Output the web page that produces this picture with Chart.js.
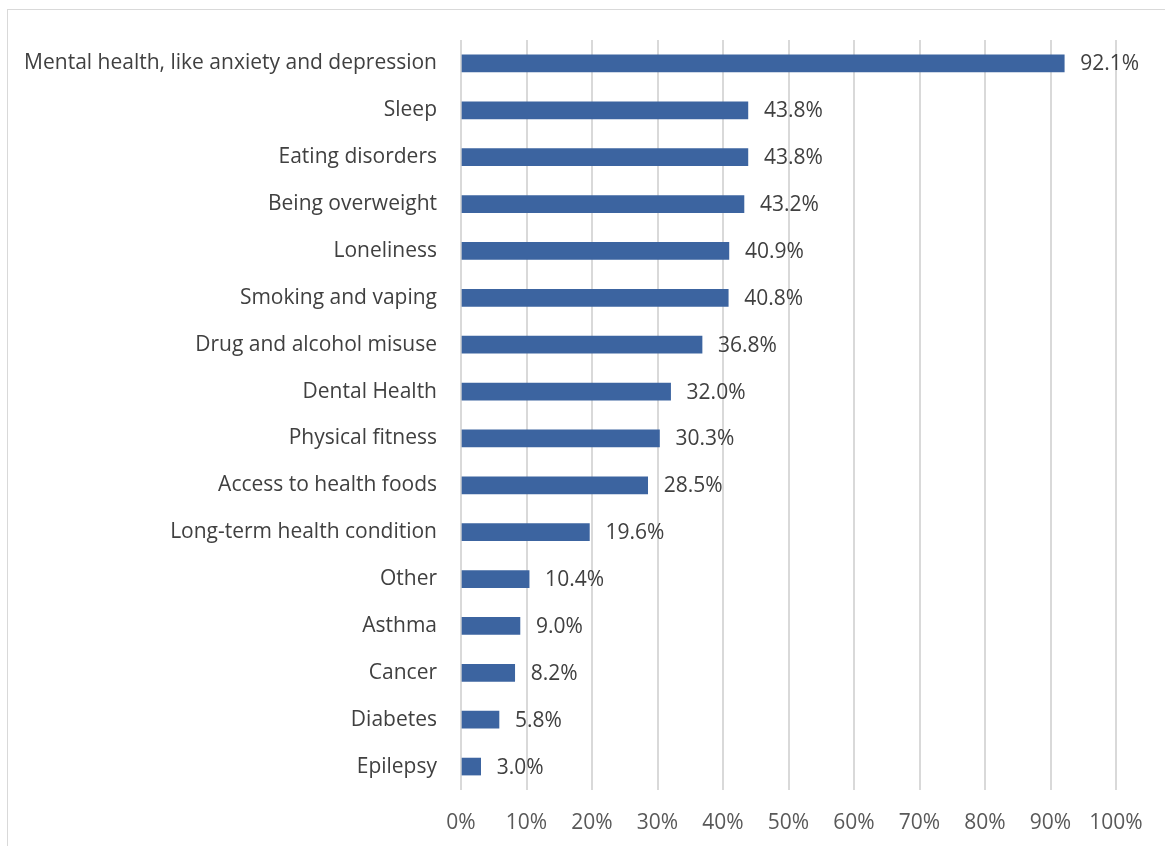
<!DOCTYPE html>
<html>
<head>
<meta charset="utf-8">
<script src="https://cdn.jsdelivr.net/npm/chart.js@4"></script>
<style>
  html, body { margin: 0; padding: 0; background: #fff; }
  #wrap { position: relative; width: 1165px; height: 846px; }
  #frame { position: absolute; left: 7px; top: 9px; right: -2px; bottom: -2px; border: 1px solid #d9d9d9; box-sizing: border-box; }
  canvas { position: absolute; left: 0; top: 0; }
</style>
</head>
<body>
<div id="wrap">
  <div id="frame"></div>
  <canvas id="c" width="1165" height="846"></canvas>
</div>
<script>
const categories = [
  "Mental health, like anxiety and depression",
  "Sleep",
  "Eating disorders",
  "Being overweight",
  "Loneliness",
  "Smoking and vaping",
  "Drug and alcohol misuse",
  "Dental Health",
  "Physical fitness",
  "Access to health foods",
  "Long-term health condition",
  "Other",
  "Asthma",
  "Cancer",
  "Diabetes",
  "Epilepsy"
];
const values = [92.1, 43.8, 43.8, 43.2, 40.9, 40.8, 36.8, 32.0, 30.3, 28.5, 19.6, 10.4, 9.0, 8.2, 5.8, 3.0];
const tickValues = [0, 10, 20, 30, 40, 50, 60, 70, 80, 90, 100];

const FONT = "'Open Sans', Lato, sans-serif";
const FSIZE = 21;

const valueLabels = {
  id: 'valueLabels',
  afterDatasetsDraw(chart) {
    const ctx = chart.ctx;
    const meta = chart.getDatasetMeta(0);
    ctx.save();
    ctx.font = FSIZE + "px " + FONT;
    ctx.fillStyle = '#404040';
    ctx.textAlign = 'left';
    ctx.textBaseline = 'middle';
    meta.data.forEach((bar, i) => {
      ctx.fillText(values[i].toFixed(1) + '%', bar.x + 16, bar.y + 1);
    });
    ctx.restore();
  }
};

new Chart(document.getElementById('c'), {
  type: 'bar',
  data: {
    labels: categories,
    datasets: [{
      data: values,
      backgroundColor: '#3c64a0',
      borderWidth: 0,
      barThickness: 17
    }]
  },
  options: {
    indexAxis: 'y',
    responsive: false,
    animation: false,
    layout: { padding: { top: 40, right: 49, left: 0, bottom: 0 } },
    plugins: { legend: { display: false }, tooltip: { enabled: false } },
    scales: {
      x: {
        min: 0, max: 100,
        afterBuildTicks(s) { s.ticks = tickValues.map(v => ({ value: v })); },
        afterFit(s) { s.height = 56; },
        ticks: {
          callback: v => v + '%',
          color: '#595959',
          font: { family: FONT, size: FSIZE },
          padding: 20,
          maxRotation: 0
        },
        grid: { color: '#d9d9d9', lineWidth: 2, drawTicks: false },
        border: { display: false }
      },
      y: {
        afterFit(s) { s.width = 461; },
        ticks: {
          color: '#404040',
          font: { family: FONT, size: FSIZE },
          padding: 24
        },
        grid: { display: false, drawTicks: false },
        border: { display: false }
      }
    }
  },
  plugins: [valueLabels]
});
</script>
</body>
</html>
